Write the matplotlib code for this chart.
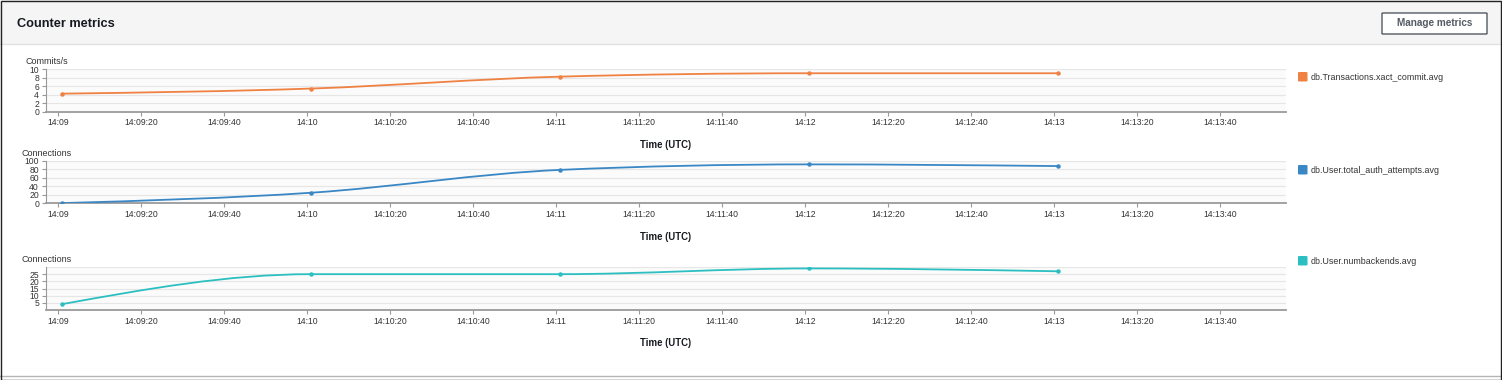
import numpy as np
import matplotlib
matplotlib.use("Agg")
import matplotlib.pyplot as plt
from matplotlib.path import Path
from matplotlib.patches import PathPatch, Rectangle, FancyBboxPatch

plt.rcParams['font.family'] = ['Liberation Sans', 'DejaVu Sans']

# ---- data ----
times = ["14:09:01", "14:10:01", "14:11:01", "14:12:01", "14:13:01"]
commits = [4.2, 5.4, 8.2, 9.0, 9.0]
auth_attempts = [0.5, 25, 79, 92, 88]
numbackends = [4.1, 25, 25, 29, 27]

tick_labels = ["14:09", "14:09:20", "14:09:40", "14:10", "14:10:20", "14:10:40",
               "14:11", "14:11:20", "14:11:40", "14:12", "14:12:20", "14:12:40",
               "14:13", "14:13:20", "14:13:40"]

y_labels = ["Commits/s", "Connections", "Connections"]
legend_names = ["db.Transactions.xact_commit.avg", "db.User.total_auth_attempts.avg",
                "db.User.numbackends.avg"]
colors = ["#ef8142", "#3a87c5", "#2cbfc1"]
y_ticks = [[0, 2, 4, 6, 8, 10], [0, 20, 40, 60, 80, 100], [5, 10, 15, 20, 25]]
y_tops = [10, 100, 30]

W, H = 1502, 380


def secs(t):
    p = [int(v) for v in t.split(":")]
    if len(p) == 2:
        p.append(0)
    return (p[0] - 14) * 3600 + (p[1] - 9) * 60 + p[2]


def fx(px):
    return px / W


def fy(py):
    return 1 - py / H


def monotone_path(x, y):
    # d3 curveMonotoneX style: cubic bezier through the points
    x = np.asarray(x, float)
    y = np.asarray(y, float)
    n = len(x)
    h = np.diff(x)
    s = np.diff(y) / h
    t = np.zeros(n)
    for i in range(1, n - 1):
        p = (s[i - 1] * h[i] + s[i] * h[i - 1]) / (h[i - 1] + h[i])
        t[i] = (np.sign(s[i - 1]) + np.sign(s[i])) * min(abs(s[i - 1]), abs(s[i]), 0.5 * abs(p))
    t[0] = (3 * s[0] - t[1]) / 2
    t[-1] = (3 * s[-1] - t[-2]) / 2
    verts = [(x[0], y[0])]
    codes = [Path.MOVETO]
    for i in range(n - 1):
        d = h[i] / 3
        verts += [(x[i] + d, y[i] + d * t[i]), (x[i + 1] - d, y[i + 1] - d * t[i + 1]),
                  (x[i + 1], y[i + 1])]
        codes += [Path.CURVE4] * 3
    return Path(verts, codes)


fig = plt.figure(figsize=(W / 100, H / 100), dpi=100)
fig.patch.set_facecolor("white")

# header panel
fig.patches.append(Rectangle((0, fy(44)), 1, 44 / H, transform=fig.transFigure,
                             facecolor="#f5f5f5", edgecolor="none", zorder=0))
fig.lines.append(plt.Line2D([0, 1], [fy(44), fy(44)], transform=fig.transFigure,
                            color="#e2e2e2", lw=1))
fig.text(fx(17), fy(24), "Counter metrics", fontsize=9.2, fontweight="bold",
         color="#16191f", va="center", ha="left")
fig.patches.append(FancyBboxPatch((fx(1382), fy(34)), 105 / W, 21 / H,
                                  boxstyle="round,pad=0,rounding_size=0.001",
                                  transform=fig.transFigure, facecolor="white",
                                  edgecolor="#545b64", lw=1))
fig.text(fx(1434.5), fy(23.5), "Manage metrics", fontsize=7.2, fontweight="bold",
         color="#545b64", va="center", ha="center")

# outer frame
fig.patches.append(Rectangle((0.0004, 0.001), 0.9992, 0.997, transform=fig.transFigure,
                             facecolor="none", edgecolor="#222222", lw=1.0, zorder=5))
fig.lines.append(plt.Line2D([0, 1], [fy(376), fy(376)], transform=fig.transFigure,
                            color="#b5b5b5", lw=1))

x_data = [secs(t) for t in times]
x_ticks = [secs(t) for t in tick_labels]
series = [commits, auth_attempts, numbackends]
tops_px = [69, 161, 267]
bottoms_px = [111.5, 203.3, 310]
ylab_px = [61, 154, 260]
legend_px = [77, 170, 261]

for k in range(3):
    ax = fig.add_axes([fx(46), fy(bottoms_px[k]), (1286 - 46) / W,
                       (bottoms_px[k] - tops_px[k]) / H])
    ax.set_facecolor("#fbfbfb")
    ax.set_xlim(-2.9, 295.9)
    ax.set_ylim(0, y_tops[k])
    ax.set_xticks(x_ticks)
    ax.set_xticklabels(tick_labels)
    ax.set_yticks(y_ticks[k])
    ax.tick_params(axis="both", labelsize=6.2, colors="#999999", labelcolor="#333333",
                   length=3, width=0.8, pad=2)
    for sp in ["top", "right"]:
        ax.spines[sp].set_visible(False)
    ax.spines["bottom"].set_color("#9a9a9a")
    ax.spines["bottom"].set_linewidth(1.3)
    ax.spines["left"].set_color("#9a9a9a")
    ax.spines["left"].set_linewidth(0.8)
    ax.grid(axis="y", color="#e6e6e6", lw=0.8)
    ax.axhline(y_tops[k], color="#e6e6e6", lw=0.8, zorder=0.5)
    ax.set_axisbelow(True)

    ax.add_patch(PathPatch(monotone_path(x_data, series[k]), facecolor="none",
                           edgecolor=colors[k], lw=1.3, zorder=3))
    ax.plot(x_data, series[k], "o", color=colors[k], ms=2.2, zorder=4)

    fig.text(fx(22 if k else 25), fy(ylab_px[k]), y_labels[k], fontsize=6.5,
             color="#333333", va="center", ha="left")
    fig.text(fx(666), fy(bottoms_px[k] + 33.5), "Time (UTC)", fontsize=6.9,
             fontweight="bold", color="#16191f", va="center", ha="center")

    fig.patches.append(FancyBboxPatch((fx(1298), fy(legend_px[k] + 4.5)), 9.5 / W, 9.5 / H,
                                      boxstyle="round,pad=0,rounding_size=0.0015",
                                      transform=fig.transFigure, facecolor=colors[k],
                                      edgecolor="none"))
    fig.text(fx(1311), fy(legend_px[k]), legend_names[k], fontsize=6.4,
             color="#333333", va="center", ha="left")

fig.savefig("out.png", dpi=100)
